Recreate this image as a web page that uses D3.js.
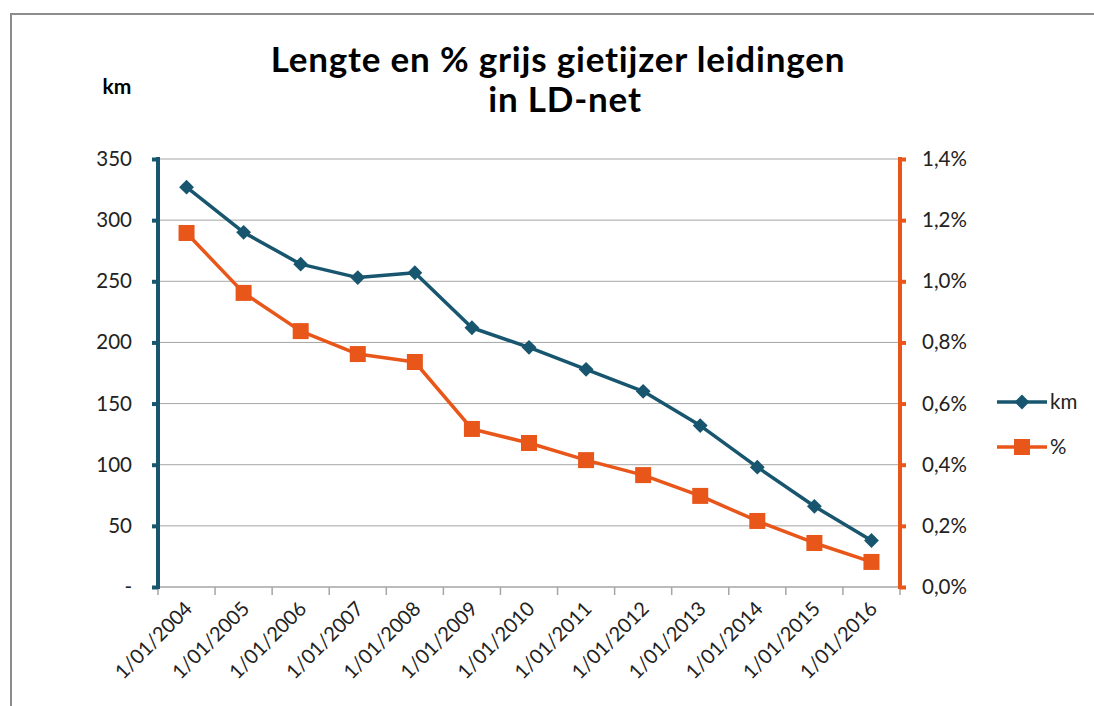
<!DOCTYPE html>
<html>
<head>
<meta charset="utf-8">
<script src="https://cdn.jsdelivr.net/npm/d3@7"></script>
<style>
  body { margin: 0; background: #fff; }
  svg { display: block; font-family: Lato, "Open Sans", sans-serif; }
</style>
</head>
<body>
<svg id="chart" width="1094" height="706"></svg>
<script>
// data
const years = ["1/01/2004", "1/01/2005", "1/01/2006", "1/01/2007", "1/01/2008", "1/01/2009",
  "1/01/2010", "1/01/2011", "1/01/2012", "1/01/2013", "1/01/2014", "1/01/2015", "1/01/2016"];
const kmValues = [327, 290, 264, 253, 257, 212, 196, 178, 160, 132, 98, 66, 38];
const pctValues = [1.158, 0.962, 0.837, 0.762, 0.736, 0.517, 0.471, 0.415, 0.366, 0.298, 0.216, 0.144, 0.082];
const kmTicks = [0, 50, 100, 150, 200, 250, 300, 350];
const pctTicks = [0, 0.2, 0.4, 0.6, 0.8, 1.0, 1.2, 1.4];

const teal = "#17566e";
const orange = "#e8561a";

const svg = d3.select("#chart");

// outer chart border (cropped on the right and bottom)
svg.append("path")
  .attr("d", "M11,706 V14 H1094")
  .attr("fill", "none")
  .attr("stroke", "#8c8c8c")
  .attr("stroke-width", 2);

const plotLeft = 158, plotRight = 900, plotTop = 159, plotBottom = 587;

const x = d3.scaleBand().domain(years).range([plotLeft, plotRight]);
const yKm = d3.scaleLinear().domain([0, 350]).range([plotBottom, plotTop]);
const yPct = d3.scaleLinear().domain([0, 1.4]).range([plotBottom, plotTop]);

// title
const title = svg.append("text")
  .attr("text-anchor", "middle")
  .attr("font-weight", "bold")
  .attr("font-size", 35)
  .attr("letter-spacing", 0.8)
  .attr("fill", "#000");
title.append("tspan").attr("x", 558).attr("y", 72).text("Lengte en % grijs gietijzer leidingen");
title.append("tspan").attr("x", 565).attr("y", 112).text("in LD-net");

svg.append("text")
  .attr("x", 117).attr("y", 94)
  .attr("text-anchor", "middle")
  .attr("font-weight", "bold")
  .attr("font-size", 21)
  .text("km");

// gridlines
svg.append("g")
  .selectAll("line")
  .data(kmTicks.slice(1))
  .join("line")
  .attr("x1", plotLeft).attr("x2", plotRight)
  .attr("y1", d => yKm(d)).attr("y2", d => yKm(d))
  .attr("stroke", "#a6a6a6")
  .attr("stroke-width", 1);

// category axis
const xAxis = svg.append("g").attr("transform", `translate(0,${plotBottom})`);
xAxis.append("line")
  .attr("x1", plotLeft).attr("x2", plotRight)
  .attr("stroke", "#a6a6a6").attr("stroke-width", 1.5);
xAxis.selectAll(".tk")
  .data(years.map(d => x(d)).concat([plotRight]))
  .join("line")
  .attr("class", "tk")
  .attr("x1", d => d).attr("x2", d => d)
  .attr("y1", 0).attr("y2", 8)
  .attr("stroke", "#a6a6a6").attr("stroke-width", 1.5);
xAxis.selectAll("text")
  .data(years)
  .join("text")
  .attr("transform", d => `translate(${x(d) + x.bandwidth() / 2 + 7},${23}) rotate(-45)`)
  .attr("text-anchor", "end")
  .attr("font-size", 20)
  .attr("fill", "#222")
  .text(d => d);

// left axis
const leftAxis = d3.axisLeft(yKm)
  .tickValues(kmTicks)
  .tickSize(6)
  .tickPadding(20)
  .tickFormat(d => d === 0 ? "-" : d);
const gl = svg.append("g").attr("transform", `translate(${plotLeft},0)`).call(leftAxis);
gl.select(".domain").attr("stroke", teal).attr("stroke-width", 4)
  .attr("d", `M0,${plotTop - 2}V${plotBottom + 2}`);
gl.selectAll(".tick line").attr("stroke", teal).attr("stroke-width", 4);
gl.selectAll(".tick text").attr("font-size", 20.5).attr("fill", "#222")
  .attr("font-family", "Lato, sans-serif");

// right axis
const rightAxis = d3.axisRight(yPct)
  .tickValues(pctTicks)
  .tickSize(6)
  .tickPadding(16)
  .tickFormat(d => d3.format(".1f")(d).replace(".", ",") + "%");
const gr = svg.append("g").attr("transform", `translate(${plotRight},0)`).call(rightAxis);
gr.select(".domain").attr("stroke", orange).attr("stroke-width", 4)
  .attr("d", `M0,${plotTop - 2}V${plotBottom + 2}`);
gr.selectAll(".tick line").attr("stroke", orange).attr("stroke-width", 4);
gr.selectAll(".tick text").attr("font-size", 20.5).attr("fill", "#222")
  .attr("font-family", "Lato, sans-serif");

const cx = d => x(d) + x.bandwidth() / 2;

// % series
svg.append("path")
  .datum(pctValues)
  .attr("fill", "none")
  .attr("stroke", orange)
  .attr("stroke-width", 3.5)
  .attr("stroke-linejoin", "round")
  .attr("d", d3.line().x((d, i) => cx(years[i])).y(d => yPct(d)));
svg.append("g")
  .selectAll("rect")
  .data(pctValues)
  .join("rect")
  .attr("x", (d, i) => cx(years[i]) - 8)
  .attr("y", d => yPct(d) - 8)
  .attr("width", 16).attr("height", 16)
  .attr("fill", orange);

// km series
svg.append("path")
  .datum(kmValues)
  .attr("fill", "none")
  .attr("stroke", teal)
  .attr("stroke-width", 3.5)
  .attr("stroke-linejoin", "round")
  .attr("d", d3.line().x((d, i) => cx(years[i])).y(d => yKm(d)));
const diamond = d3.symbol().type(d3.symbolDiamond2).size(140);
svg.append("g")
  .selectAll("path")
  .data(kmValues)
  .join("path")
  .attr("transform", (d, i) => `translate(${cx(years[i])},${yKm(d)})`)
  .attr("d", diamond)
  .attr("fill", teal);

// legend
const legend = svg.append("g");
const items = [
  { name: "km", color: teal, y: 402, mark: "diamond" },
  { name: "%", color: orange, y: 447, mark: "square" }
];
items.forEach(it => {
  legend.append("line")
    .attr("x1", 997).attr("x2", 1047)
    .attr("y1", it.y).attr("y2", it.y)
    .attr("stroke", it.color).attr("stroke-width", 3.5);
  if (it.mark === "diamond") {
    legend.append("path")
      .attr("transform", `translate(1022,${it.y})`)
      .attr("d", diamond)
      .attr("fill", it.color);
  } else {
    legend.append("rect")
      .attr("x", 1014).attr("y", it.y - 8)
      .attr("width", 16).attr("height", 16)
      .attr("fill", it.color);
  }
  legend.append("text")
    .attr("x", 1050).attr("y", it.y + 7)
    .attr("font-size", 20.5)
    .attr("fill", "#222")
    .text(it.name);
});
</script>
</body>
</html>
